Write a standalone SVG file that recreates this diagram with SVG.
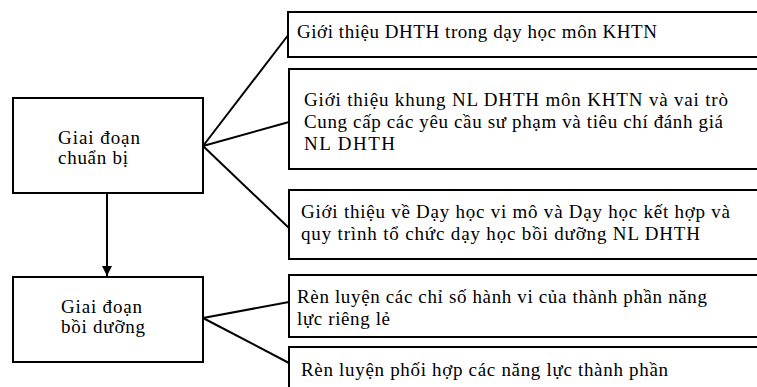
<svg xmlns="http://www.w3.org/2000/svg" width="757" height="387" viewBox="0 0 757 387">
<style>
.box{fill:#fff;stroke:#000;stroke-width:2}
text{font-family:'Liberation Serif','Times New Roman','DejaVu Serif',serif;font-size:19px;fill:#000}
.c{stroke:#000;stroke-width:2;fill:none}
</style>
<defs>
<marker id="arr" viewBox="0 0 10 10" refX="10" refY="5" markerWidth="10" markerHeight="10" markerUnits="userSpaceOnUse" orient="auto">
<path d="M0,0 L10,5 L0,10 z" fill="#000"/>
</marker>
</defs>
<rect width="757" height="387" fill="#fff"/>
<g id="connectors">
<line class="c" x1="203" y1="146" x2="289" y2="34"/>
<line class="c" x1="203" y1="146" x2="289" y2="122"/>
<line class="c" x1="203" y1="146" x2="289" y2="228"/>
<line class="c" x1="107" y1="193" x2="107" y2="276" marker-end="url(#arr)"/>
<line class="c" x1="203" y1="318" x2="289" y2="302"/>
<line class="c" x1="203" y1="318" x2="289" y2="363"/>
</g>
<g id="n1">
<rect class="box" x="13" y="98" width="190" height="95"/>
<text x="58" y="144" textLength="82" lengthAdjust="spacing">Giai đoạn</text>
<text x="58" y="164" textLength="70" lengthAdjust="spacing">chuẩn bị</text>
</g>
<g id="n2">
<rect class="box" x="13" y="277" width="190" height="85"/>
<text x="61" y="313" textLength="81" lengthAdjust="spacing">Giai đoạn</text>
<text x="61" y="333" textLength="84" lengthAdjust="spacing">bồi dưỡng</text>
</g>
<g id="r1">
<rect class="box" x="288" y="12" width="480" height="45"/>
<text x="297" y="38" textLength="360" lengthAdjust="spacing">Giới thiệu DHTH trong dạy học môn KHTN</text>
</g>
<g id="r2">
<rect class="box" x="289" y="69" width="480" height="100"/>
<text x="304" y="106" textLength="424" lengthAdjust="spacing">Giới thiệu khung NL DHTH môn KHTN và vai trò</text>
<text x="304" y="128" textLength="419" lengthAdjust="spacing">Cung cấp các yêu cầu sư phạm và tiêu chí đánh giá</text>
<text x="304" y="150" textLength="91" lengthAdjust="spacing">NL DHTH</text>
</g>
<g id="r3">
<rect class="box" x="289" y="190" width="480" height="69"/>
<text x="301" y="218" textLength="429" lengthAdjust="spacing">Giới thiệu về Dạy học vi mô và Dạy học kết hợp và</text>
<text x="301" y="240" textLength="399" lengthAdjust="spacing">quy trình tổ chức dạy học bồi dưỡng NL DHTH</text>
</g>
<g id="r4">
<rect class="box" x="289" y="275" width="480" height="62"/>
<text x="297" y="303" textLength="410" lengthAdjust="spacing">Rèn luyện các chỉ số hành vi của thành phần năng</text>
<text x="297" y="325" textLength="93" lengthAdjust="spacing">lực riêng lẻ</text>
</g>
<g id="r5">
<rect class="box" x="289" y="347" width="480" height="60"/>
<text x="301" y="376" textLength="367" lengthAdjust="spacing">Rèn luyện phối hợp các năng lực thành phần</text>
</g>
</svg>
